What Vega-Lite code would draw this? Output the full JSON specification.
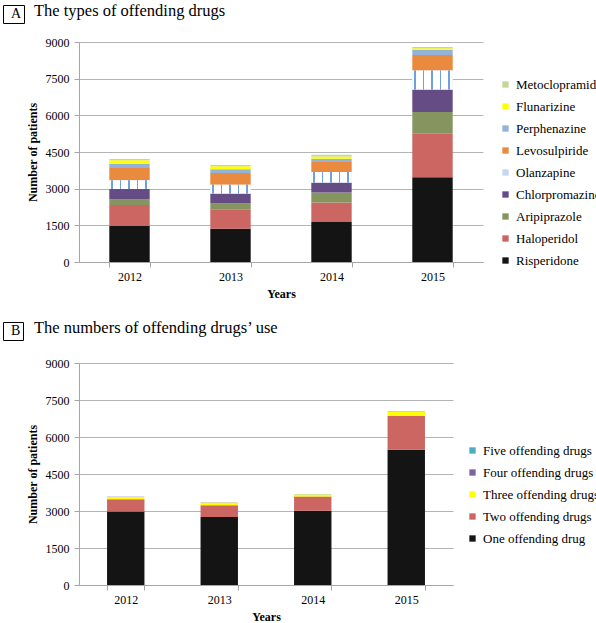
{
  "$schema": "https://vega.github.io/schema/vega-lite/v6.json",
  "padding": {"left": 2, "top": 3, "right": 0, "bottom": 0},
  "config": {
    "font": "Liberation Serif",
    "view": {"stroke": null},
    "axis": {
      "labelFont": "Liberation Serif", "labelFontSize": 12, "labelColor": "#000",
      "titleFont": "Liberation Serif", "titleFontSize": 12, "titleFontWeight": "bold", "titleColor": "#000",
      "domainColor": "#a6a6a6", "tickColor": "#a6a6a6", "gridColor": "#b4b4b4", "tickSize": 5, "labelPadding": 4
    },
    "legend": {
      "labelFont": "Liberation Serif", "labelFontSize": 13, "labelColor": "#000",
      "symbolType": "square", "symbolSize": 40, "symbolStrokeWidth": 0, "rowPadding": 8, "labelOffset": 4, "padding": 0
    },
    "title": {"font": "Liberation Serif", "fontSize": 16.5, "fontWeight": "normal", "color": "#000"}
  },
  "datasets": {
    "drugs": [
      {"year": "2012", "drug": "Risperidone", "n": 1470},
      {"year": "2012", "drug": "Haloperidol", "n": 866},
      {"year": "2012", "drug": "Aripiprazole", "n": 220},
      {"year": "2012", "drug": "Chlorpromazine", "n": 433},
      {"year": "2012", "drug": "Olanzapine", "n": 354},
      {"year": "2012", "drug": "Levosulpiride", "n": 502},
      {"year": "2012", "drug": "Perphenazine", "n": 177},
      {"year": "2012", "drug": "Flunarizine", "n": 136},
      {"year": "2012", "drug": "Metoclopramide", "n": 54},
      {"year": "2013", "drug": "Risperidone", "n": 1360},
      {"year": "2013", "drug": "Haloperidol", "n": 800},
      {"year": "2013", "drug": "Aripiprazole", "n": 230},
      {"year": "2013", "drug": "Chlorpromazine", "n": 410},
      {"year": "2013", "drug": "Olanzapine", "n": 365},
      {"year": "2013", "drug": "Levosulpiride", "n": 475},
      {"year": "2013", "drug": "Perphenazine", "n": 150},
      {"year": "2013", "drug": "Flunarizine", "n": 123},
      {"year": "2013", "drug": "Metoclopramide", "n": 53},
      {"year": "2014", "drug": "Risperidone", "n": 1640},
      {"year": "2014", "drug": "Haloperidol", "n": 790},
      {"year": "2014", "drug": "Aripiprazole", "n": 410},
      {"year": "2014", "drug": "Chlorpromazine", "n": 410},
      {"year": "2014", "drug": "Olanzapine", "n": 430},
      {"year": "2014", "drug": "Levosulpiride", "n": 410},
      {"year": "2014", "drug": "Perphenazine", "n": 135},
      {"year": "2014", "drug": "Flunarizine", "n": 95},
      {"year": "2014", "drug": "Metoclopramide", "n": 70},
      {"year": "2015", "drug": "Risperidone", "n": 3470},
      {"year": "2015", "drug": "Haloperidol", "n": 1775},
      {"year": "2015", "drug": "Aripiprazole", "n": 890},
      {"year": "2015", "drug": "Chlorpromazine", "n": 920},
      {"year": "2015", "drug": "Olanzapine", "n": 780},
      {"year": "2015", "drug": "Levosulpiride", "n": 630},
      {"year": "2015", "drug": "Perphenazine", "n": 220},
      {"year": "2015", "drug": "Flunarizine", "n": 60},
      {"year": "2015", "drug": "Metoclopramide", "n": 55}
    ],
    "counts": [
      {"year": "2012", "k": "One offending drug", "n": 2975},
      {"year": "2012", "k": "Two offending drugs", "n": 505},
      {"year": "2012", "k": "Three offending drugs", "n": 90},
      {"year": "2012", "k": "Four offending drugs", "n": 10},
      {"year": "2012", "k": "Five offending drugs", "n": 2},
      {"year": "2013", "k": "One offending drug", "n": 2760},
      {"year": "2013", "k": "Two offending drugs", "n": 475},
      {"year": "2013", "k": "Three offending drugs", "n": 100},
      {"year": "2013", "k": "Four offending drugs", "n": 10},
      {"year": "2013", "k": "Five offending drugs", "n": 2},
      {"year": "2014", "k": "One offending drug", "n": 3010},
      {"year": "2014", "k": "Two offending drugs", "n": 575},
      {"year": "2014", "k": "Three offending drugs", "n": 80},
      {"year": "2014", "k": "Four offending drugs", "n": 8},
      {"year": "2014", "k": "Five offending drugs", "n": 1},
      {"year": "2015", "k": "One offending drug", "n": 5480},
      {"year": "2015", "k": "Two offending drugs", "n": 1380},
      {"year": "2015", "k": "Three offending drugs", "n": 170},
      {"year": "2015", "k": "Four offending drugs", "n": 15},
      {"year": "2015", "k": "Five offending drugs", "n": 3}
    ],
    "lblA": [{"panel": "A"}],
    "lblB": [{"panel": "B"}]
  },
  "vconcat": [
    {
      "width": 404, "height": 220,
      "title": {"text": "The types of offending drugs", "anchor": "start", "frame": "group", "dx": -45, "offset": -15},
      "layer": [
        {
          "data": {"name": "drugs"},
          "transform": [{"stack": "n", "groupby": ["year"], "sort": [{"field": "year", "order": "ascending"}], "as": ["n0", "n1"]}],
          "mark": {"type": "bar"},
          "encoding": {
            "x": {
              "field": "year", "type": "ordinal",
              "scale": {"paddingInner": 0.6, "paddingOuter": 0.3},
              "axis": {"title": "Years", "labelAngle": 0, "tickBand": "extent", "titlePadding": 6}
            },
            "y": {
              "field": "n1", "type": "quantitative",
              "scale": {"domain": [0, 9000]},
              "axis": {"title": "Number of patients", "values": [0, 1500, 3000, 4500, 6000, 7500, 9000], "format": "d", "titlePadding": 6, "labelPadding": 5}
            },
            "y2": {"field": "n0"},
            "color": {
              "field": "drug", "type": "nominal",
              "sort": ["Metoclopramide", "Flunarizine", "Perphenazine", "Levosulpiride", "Olanzapine", "Chlorpromazine", "Aripiprazole", "Haloperidol", "Risperidone"],
              "scale": {
                "range": ["#c3d69b", "#ffff00", "#95b3d7", "#e98a3e", "#c6d8ef", "#664c85", "#86955f", "#cb6662", "#141414"]
              },
              "legend": {"title": null, "orient": "none", "legendX": 420, "legendY": 36}
            }
          }
        },
        {
          "data": {"name": "drugs"},
          "transform": [
            {"stack": "n", "groupby": ["year"], "sort": [{"field": "year", "order": "ascending"}], "as": ["n0", "n1"]},
            {"filter": "datum.drug === 'Olanzapine'"}
          ],
          "mark": {
            "type": "bar",
            "fill": {"gradient": "linear", "x1": 0, "y1": 0, "x2": 1, "y2": 0, "stops": [
              {"offset": 0, "color": "#ffffff"}, {"offset": 0.05, "color": "#ffffff"},
              {"offset": 0.05, "color": "#6f9fdc"}, {"offset": 0.085, "color": "#6f9fdc"},
              {"offset": 0.085, "color": "#ffffff"}, {"offset": 0.26, "color": "#ffffff"},
              {"offset": 0.26, "color": "#6f9fdc"}, {"offset": 0.295, "color": "#6f9fdc"},
              {"offset": 0.295, "color": "#ffffff"}, {"offset": 0.47, "color": "#ffffff"},
              {"offset": 0.47, "color": "#6f9fdc"}, {"offset": 0.505, "color": "#6f9fdc"},
              {"offset": 0.505, "color": "#ffffff"}, {"offset": 0.68, "color": "#ffffff"},
              {"offset": 0.68, "color": "#6f9fdc"}, {"offset": 0.715, "color": "#6f9fdc"},
              {"offset": 0.715, "color": "#ffffff"}, {"offset": 0.89, "color": "#ffffff"},
              {"offset": 0.89, "color": "#6f9fdc"}, {"offset": 0.925, "color": "#6f9fdc"},
              {"offset": 0.925, "color": "#ffffff"}, {"offset": 1, "color": "#ffffff"}
            ]}
          },
          "encoding": {
            "x": {
              "field": "year", "type": "ordinal",
              "scale": {"paddingInner": 0.6, "paddingOuter": 0.3},
              "axis": {"title": "Years", "labelAngle": 0, "tickBand": "extent", "titlePadding": 6}
            },
            "y": {
              "field": "n1", "type": "quantitative",
              "scale": {"domain": [0, 9000]},
              "axis": {"title": "Number of patients", "values": [0, 1500, 3000, 4500, 6000, 7500, 9000], "format": "d", "titlePadding": 6, "labelPadding": 5}
            },
            "y2": {"field": "n0"}
          }
        },
        {
          "data": {"name": "lblA"},
          "mark": {"type": "point", "opacity": 0},
          "encoding": {
            "shape": {
              "field": "panel", "type": "nominal",
              "legend": {"title": null, "orient": "none", "legendX": -76, "legendY": -37, "strokeColor": "#000", "padding": 2, "symbolSize": 1, "symbolStrokeWidth": 0, "symbolOpacity": 0, "labelFontSize": 14, "labelOffset": -8, "labelExpr": "'\u2004' + datum.label + '\u2004'"}
            }
          }
        }
      ]
    },
    {
      "width": 374, "height": 222,
      "title": {"text": "The numbers of offending drugs’ use", "anchor": "start", "frame": "group", "dx": -45, "offset": -15},
      "layer": [
        {
          "data": {"name": "counts"},
          "transform": [{"stack": "n", "groupby": ["year"], "sort": [{"field": "year", "order": "ascending"}], "as": ["n0", "n1"]}],
          "mark": {"type": "bar"},
          "encoding": {
            "x": {
              "field": "year", "type": "ordinal",
              "scale": {"paddingInner": 0.6, "paddingOuter": 0.3},
              "axis": {"title": "Years", "labelAngle": 0, "tickBand": "extent", "titlePadding": 6}
            },
            "y": {
              "field": "n1", "type": "quantitative",
              "scale": {"domain": [0, 9000]},
              "axis": {"title": "Number of patients", "values": [0, 1500, 3000, 4500, 6000, 7500, 9000], "format": "d", "titlePadding": 6, "labelPadding": 5}
            },
            "y2": {"field": "n0"},
            "color": {
              "field": "k", "type": "nominal",
              "sort": ["Five offending drugs", "Four offending drugs", "Three offending drugs", "Two offending drugs", "One offending drug"],
              "scale": {"range": ["#4bacc6", "#8064a2", "#ffff00", "#cb6662", "#141414"]},
              "legend": {"title": null, "orient": "none", "legendX": 387, "legendY": 81}
            }
          }
        },
        {
          "data": {"name": "lblB"},
          "mark": {"type": "point", "opacity": 0},
          "encoding": {
            "shape": {
              "field": "panel", "type": "nominal",
              "legend": {"title": null, "orient": "none", "legendX": -76, "legendY": -41, "strokeColor": "#000", "padding": 2, "symbolSize": 1, "symbolStrokeWidth": 0, "symbolOpacity": 0, "labelFontSize": 14, "labelOffset": -8, "labelExpr": "'\u2004' + datum.label + '\u2004'"}
            }
          }
        }
      ]
    }
  ],
  "spacing": 21,
  "resolve": {
    "scale": {"x": "independent", "y": "independent", "color": "independent", "shape": "independent"},
    "legend": {"color": "independent", "shape": "independent"}
  }
}
